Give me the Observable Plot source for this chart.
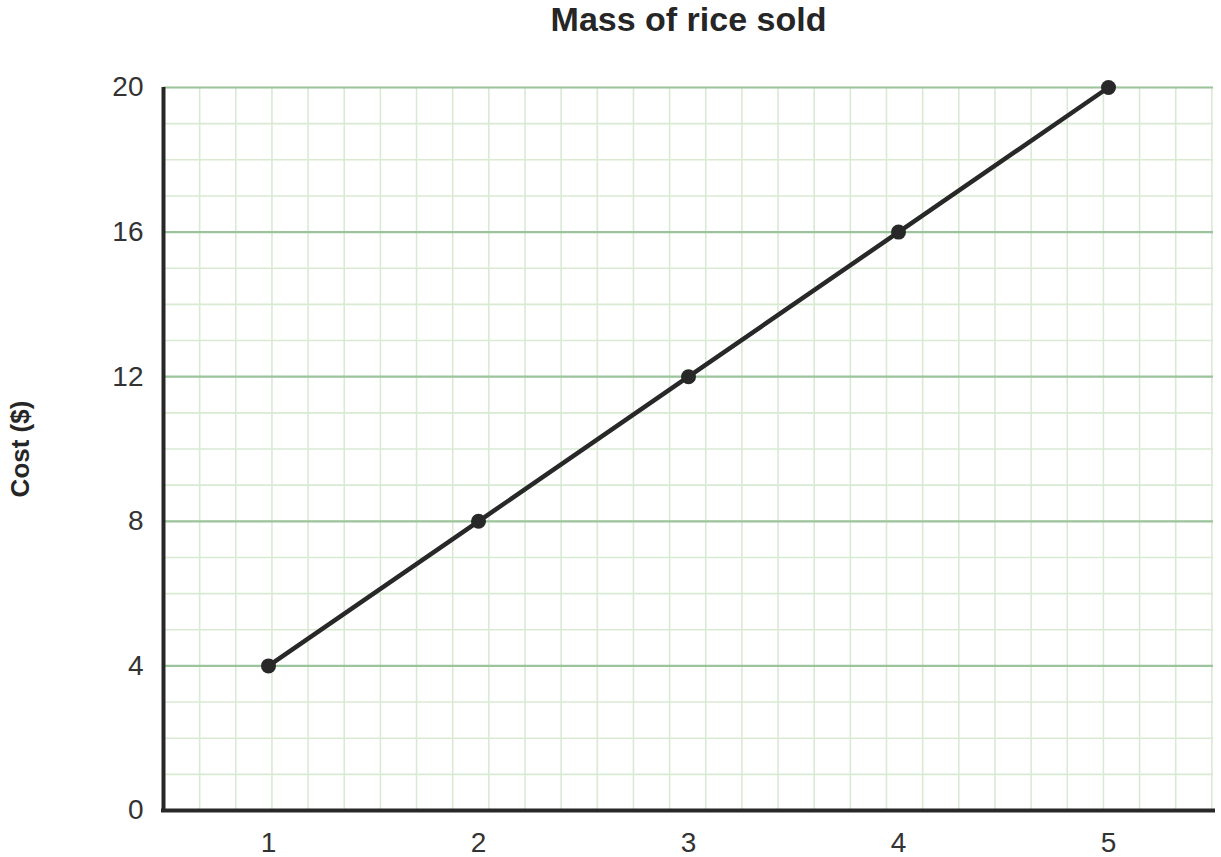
<!DOCTYPE html>
<html>
<head>
<meta charset="utf-8">
<script src="https://cdn.jsdelivr.net/npm/d3@7"></script>
<script src="https://cdn.jsdelivr.net/npm/@observablehq/plot@0.6"></script>
<style>
  html, body { margin: 0; padding: 0; background: #fff; }
  svg { display: block; font-family: "Liberation Sans", Arial, sans-serif; }
</style>
</head>
<body>
<div id="chart"></div>
<script>
const title = "Mass of rice sold";
const yLabel = "Cost ($)";
const mass = [1, 2, 3, 4, 5];
const cost = [4, 8, 12, 16, 20];
const xTicks = [1, 2, 3, 4, 5];
const yTicks = [0, 4, 8, 12, 16, 20];
const yMinor = d3.range(0, 21, 1);

const data = mass.map((m, i) => ({mass: m, cost: cost[i]}));

const W = 1221, H = 857, ML = 163, MR = 8, MT = 87, MB = 47;
const xDomain = [0.5, 5.5], yDomain = [0, 20];
// square background grid: vertical spacing equals one y-unit in pixels
const pxPerY = (H - MT - MB) / (yDomain[1] - yDomain[0]);
const pxPerX = (W - ML - MR) / (xDomain[1] - xDomain[0]);
const cell = pxPerY / pxPerX;
const xMinor = d3.range(xDomain[0] + cell, xDomain[1] + 1e-9, cell);

const minorColor = "#d9ead3";
const majorColor = "#9cc49c";
const ink = "#282828";

const chart = Plot.plot({
  width: W,
  height: H,
  marginLeft: ML,
  marginRight: MR,
  marginTop: MT,
  marginBottom: MB,
  style: {fontFamily: "Liberation Sans, Arial, sans-serif", color: "#333"},
  x: {domain: xDomain},
  y: {domain: yDomain},
  marks: [
    Plot.ruleX(xMinor, {stroke: minorColor, strokeWidth: 1.6}),
    Plot.ruleY(yMinor, {stroke: minorColor, strokeWidth: 1.6}),
    Plot.ruleY(yTicks.filter(d => d > 0), {stroke: majorColor, strokeWidth: 2.2}),
    Plot.ruleX([xDomain[0]], {stroke: ink, strokeWidth: 4}),
    Plot.ruleY([0], {stroke: ink, strokeWidth: 4, insetLeft: -2, insetRight: -2}),
    Plot.axisX(xTicks, {tickSize: 0, tickPadding: 22, fontSize: 28, fill: "#333", label: null, tickFormat: d3.format("d")}),
    Plot.axisY(yTicks, {tickSize: 0, tickPadding: 20, fontSize: 28, fill: "#333", label: null, tickFormat: d3.format("d")}),
    Plot.line(data, {x: "mass", y: "cost", stroke: ink, strokeWidth: 4.5}),
    Plot.dot(data, {x: "mass", y: "cost", r: 7.5, fill: ink, stroke: "none"}),
    Plot.text([title], {frameAnchor: "top", dy: -67.5, fontSize: 34, fontWeight: "bold", fill: "#262626", lineAnchor: "middle"}),
    Plot.text([yLabel], {frameAnchor: "left", dx: -143, rotate: -90, fontSize: 26, fontWeight: "bold", fill: "#262626", textAnchor: "middle", lineAnchor: "middle"})
  ]
});
document.getElementById("chart").appendChild(chart);
</script>
</body>
</html>
